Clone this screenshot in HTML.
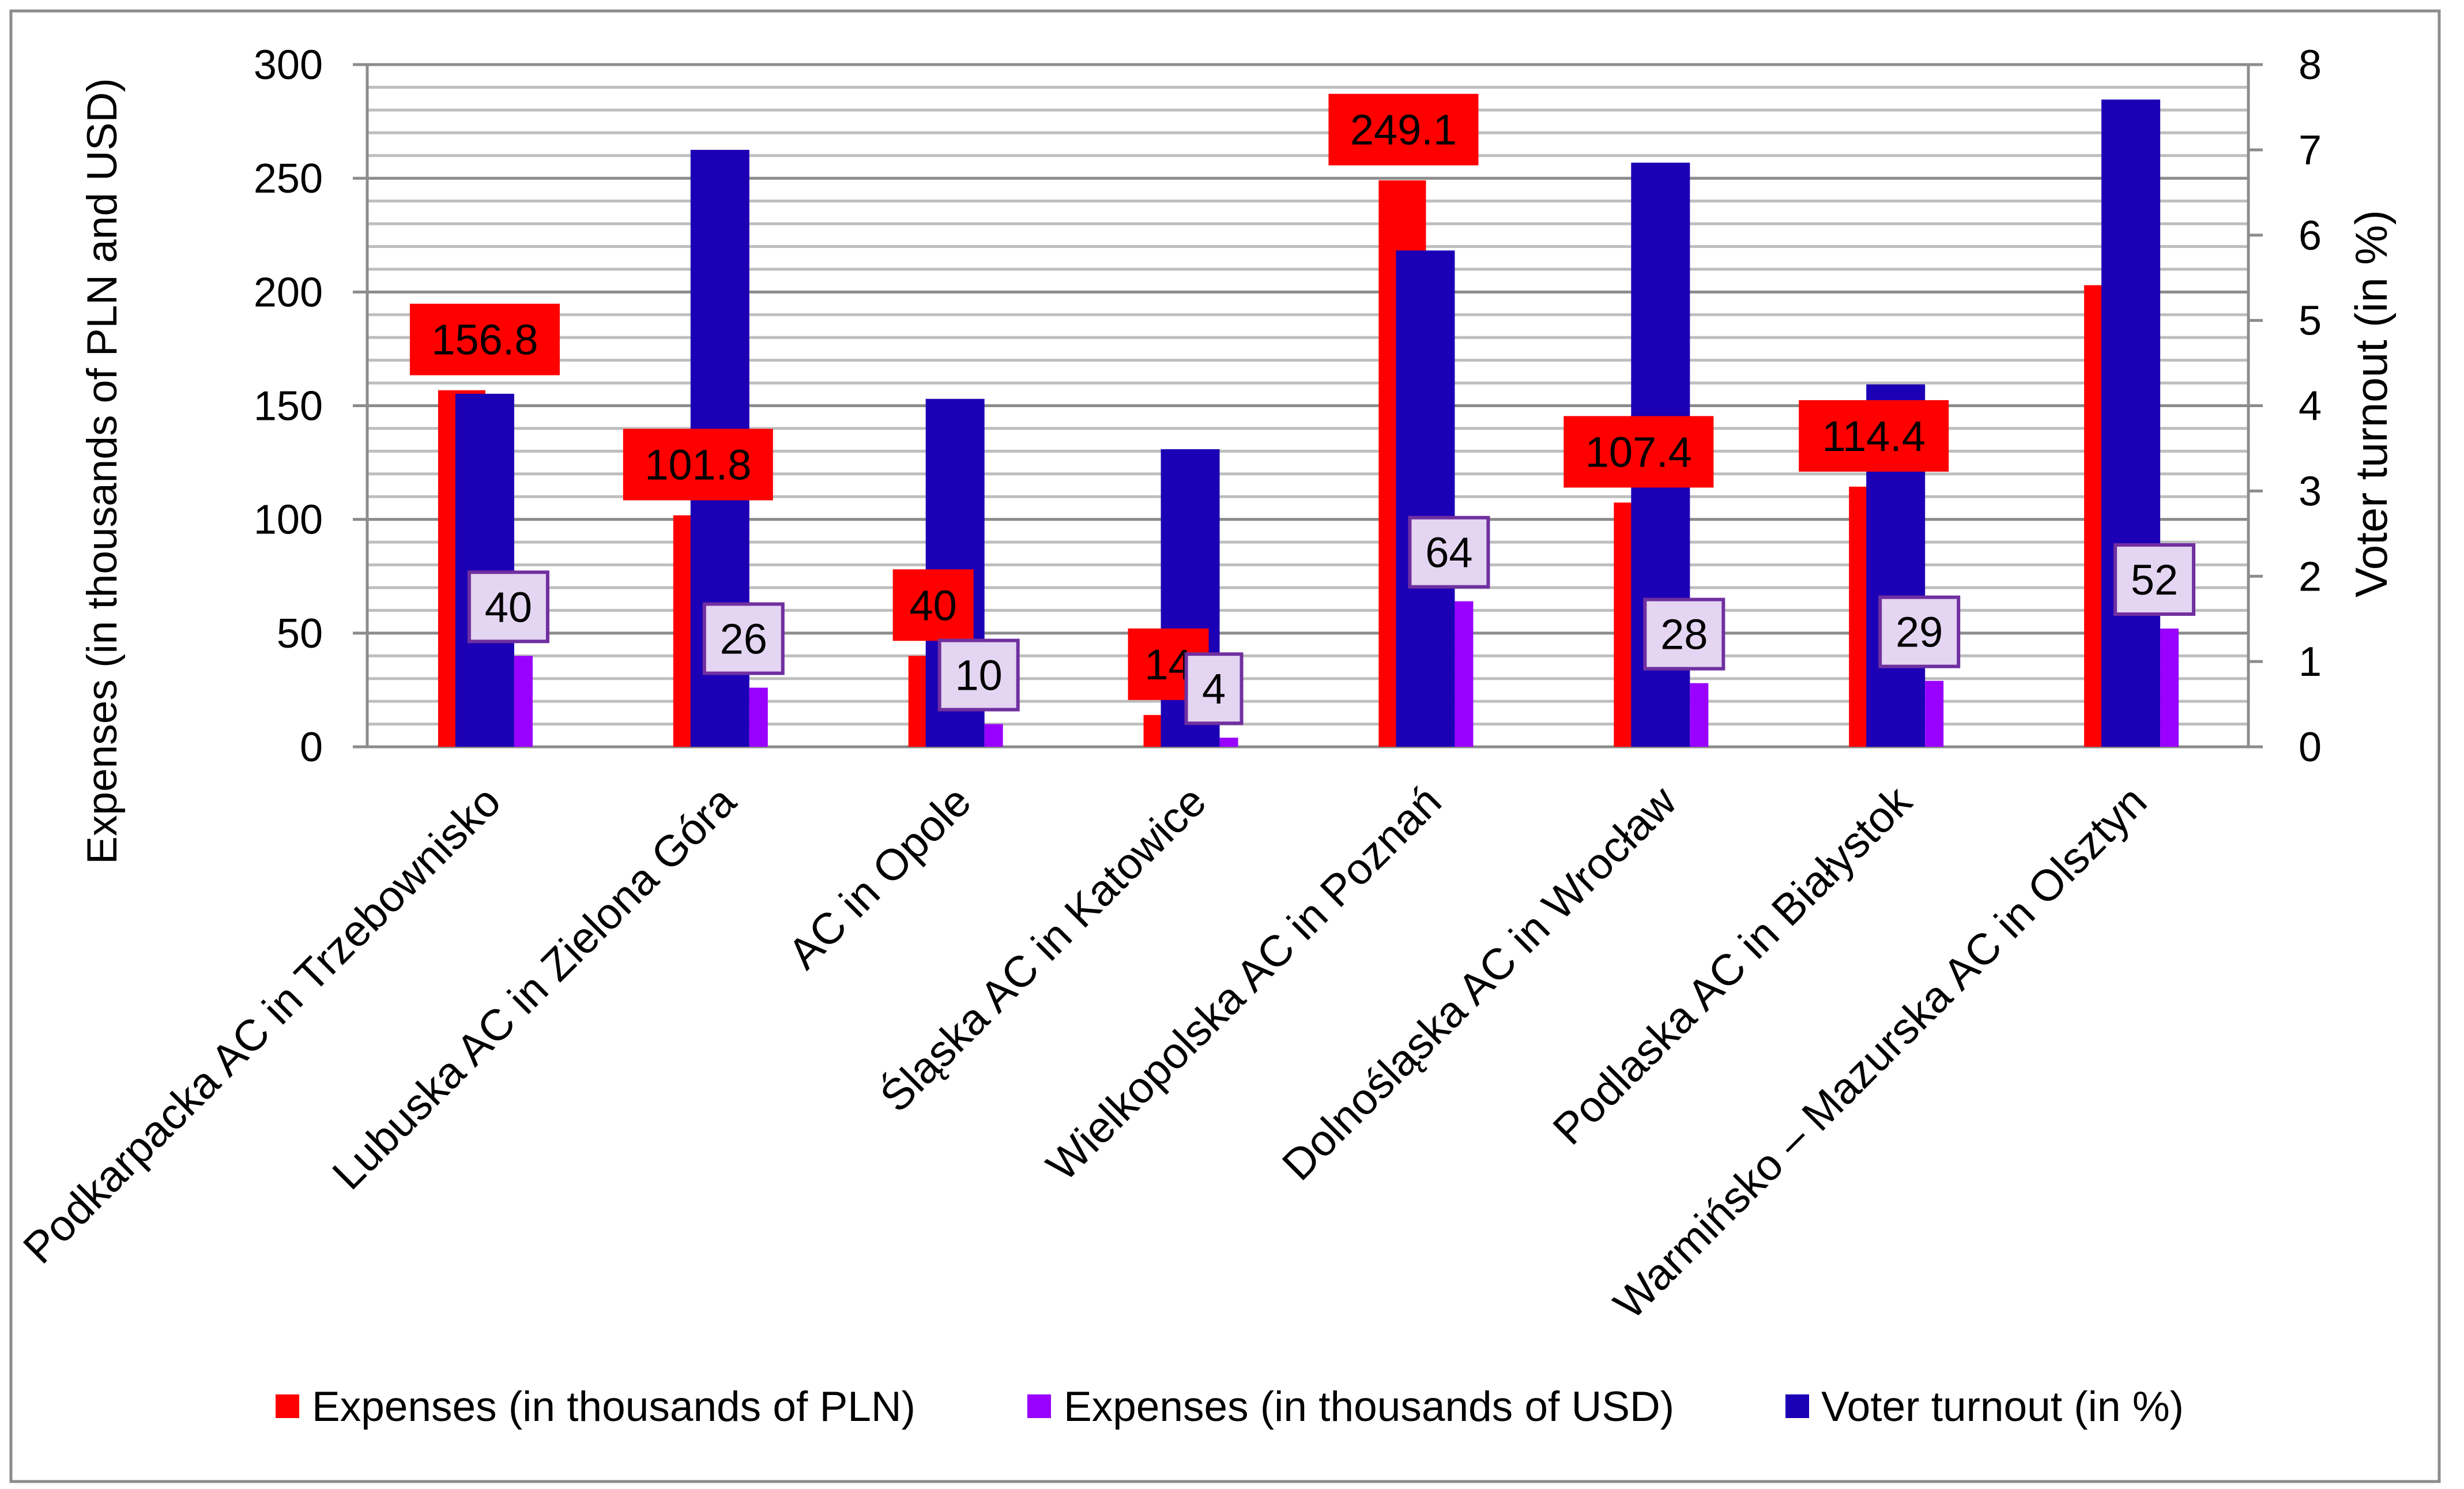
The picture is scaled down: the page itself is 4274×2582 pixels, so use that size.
<!DOCTYPE html>
<html><head><meta charset="utf-8">
<style>
html,body{margin:0;padding:0;background:#fff;}
svg{display:block;font-family:"Liberation Sans",sans-serif;}
</style></head>
<body>
<svg id="chart" width="4274" height="2582" viewBox="0 0 4274 2582" xmlns="http://www.w3.org/2000/svg">
<rect x="19" y="19" width="4212" height="2550" fill="#fff" stroke="#8c8c8c" stroke-width="5"/>
<g id="grid"></g>
<g id="bars"></g>
<g id="axes"></g>
<g id="labels"></g>
<text transform="translate(202,817) rotate(-90)" text-anchor="middle" font-size="73">Expenses (in thousands of PLN and USD)</text>
<text transform="translate(4140,700) rotate(-90)" text-anchor="middle" font-size="78">Voter turnout (in %)</text>
<g>
  <rect x="478" y="2418" width="41" height="41" fill="#ff0000"/>
  <text x="541" y="2464" font-size="73">Expenses (in thousands of PLN)</text>
  <rect x="1782" y="2418" width="41" height="41" fill="#9900ff"/>
  <text x="1845" y="2464" font-size="73">Expenses (in thousands of USD)</text>
  <rect x="3097" y="2418" width="41" height="41" fill="#1c00b5"/>
  <text x="3159" y="2464" font-size="73">Voter turnout (in %)</text>
</g>
</svg>
<script>
const categories = ["Podkarpacka AC in Trzebownisko","Lubuska AC in Zielona Góra","AC in Opole","Śląska AC in Katowice","Wielkopolska AC in Poznań","Dolnośląska AC in Wrocław","Podlaska AC in Białystok","Warmińsko – Mazurska AC in Olsztyn"];
const plnValues = [156.8,101.8,40,14,249.1,107.4,114.4,203];
const plnLabels = ["156.8","101.8","40","14","249.1","107.4","114.4",""];
const usdValues = [40,26,10,4,64,28,29,52];
const turnoutValues = [4.14,7.0,4.08,3.49,5.82,6.85,4.25,7.59];
const leftTicks = [0,50,100,150,200,250,300];
const rightTicks = [0,1,2,3,4,5,6,7,8];

const NS="http://www.w3.org/2000/svg";
const X0=637,X1=3900,Y0=1295,Y1=112;
const bw=(X1-X0)/categories.length;
const yL=v=>Y0-(v/300)*(Y0-Y1);
const yR=v=>Y0-(v/8)*(Y0-Y1);
const cx=i=>X0+bw*(i+0.5);
function mk(tag,attrs,parent){const e=document.createElementNS(NS,tag);for(const k in attrs)e.setAttribute(k,attrs[k]);parent.appendChild(e);return e;}
const grid=document.getElementById('grid'),bars=document.getElementById('bars'),axes=document.getElementById('axes'),labels=document.getElementById('labels');

for(let v=0;v<=300;v+=10){
  const major=v%50===0;
  const l=mk('line',{x1:major?612:X0,x2:X1,y1:yL(v),y2:yL(v),stroke:major?'#8c8c8c':'#bebebe','stroke-width':5},grid);
  
  
}
leftTicks.forEach(t=>{
  const e=mk('text',{x:560,y:yL(t)+25,'text-anchor':'end','font-size':72},axes);
  e.textContent=t;
  
  
});
rightTicks.forEach(t=>{
  const l=mk('line',{x1:X1,x2:X1+25,y1:yR(t),y2:yR(t),stroke:'#8c8c8c','stroke-width':5},axes);
  
  
  const e=mk('text',{x:4007,y:yR(t)+25,'text-anchor':'middle','font-size':72},axes);
  e.textContent=t;
  
  
});
const la=mk('line',{x1:X0,x2:X0,y1:Y1,y2:Y0,stroke:'#8c8c8c','stroke-width':5},axes);


const ra=mk('line',{x1:X1,x2:X1,y1:Y1,y2:Y0,stroke:'#8c8c8c','stroke-width':5},axes);



categories.forEach((c,i)=>{
  const m=cx(i);
  const r=mk('rect',{x:m-81,y:yL(plnValues[i]),width:82,height:Y0-yL(plnValues[i]),fill:'#ff0000'},bars);
  
  
  const b=mk('rect',{x:m-51,y:yR(turnoutValues[i]),width:102,height:Y0-yR(turnoutValues[i]),fill:'#1c00b5'},bars);
  
  
  const p=mk('rect',{x:m+51,y:yL(usdValues[i]),width:32,height:Y0-yL(usdValues[i]),fill:'#9900ff'},bars);
  
  

  if(plnLabels[i]){
    const s=plnLabels[i];
    const w=s.length*40+60;
    const lx=(i===0?m:m-38), ly=yL(plnValues[i])-88;
    const br=mk('rect',{x:lx-w/2,y:ly-62,width:w,height:124,fill:'#ff0000'},labels);
    
    
    const t=mk('text',{x:lx,y:ly+26,'text-anchor':'middle','font-size':74},labels);
    t.textContent=s;
    
    
  }
  const s2=String(usdValues[i]);
  const w2=s2.length*40+56;
  const ux=m+41, uy=yL(usdValues[i])-85;
  const bp=mk('rect',{x:ux-w2/2,y:uy-60,width:w2,height:120,fill:'#e4d5f2',stroke:'#7030a0','stroke-width':6},labels);
  
  
  const t2=mk('text',{x:ux,y:uy+26,'text-anchor':'middle','font-size':74},labels);
  t2.textContent=s2;
  
  

  const ct=mk('text',{transform:`translate(${m+32},${1395}) rotate(-45)`,'text-anchor':'end','font-size':76},axes);
  ct.textContent=c;
  
  
});
</script>
</body></html>
